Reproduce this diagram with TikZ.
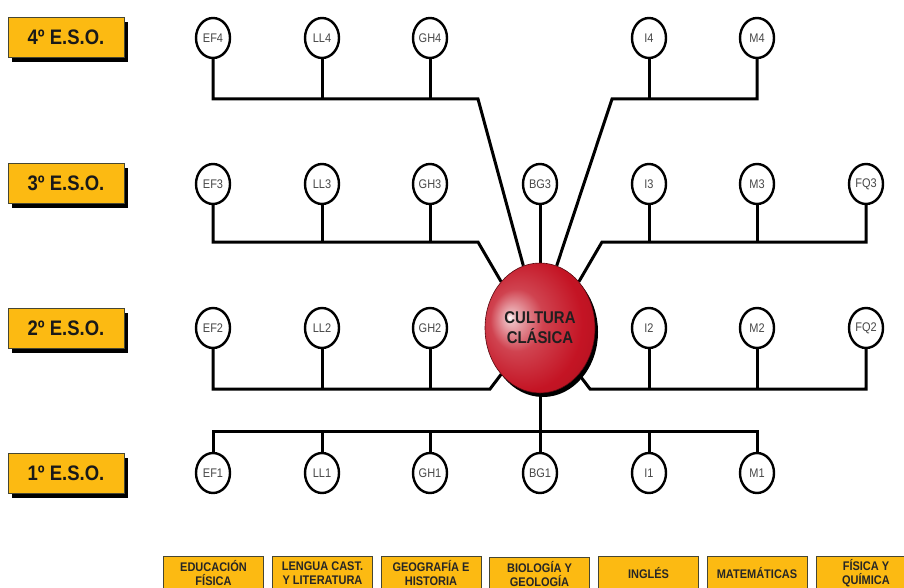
\documentclass[tikz,border=0pt]{standalone}
\usepackage{fontspec}
\setmainfont{Liberation Sans}
\newfontfamily\cf[FakeStretch=0.88]{Liberation Sans}
\usetikzlibrary{shapes.geometric,shadows,backgrounds}
\definecolor{gold}{RGB}{252,186,18}
\definecolor{boxedge}{RGB}{70,70,50}
\definecolor{cred}{RGB}{196,20,36}
\pgfdeclareradialshading{redball}{\pgfpoint{-14bp}{4bp}}{color(0bp)=(white); color(2bp)=(white!70!cred); color(12bp)=(cred!80!white); color(26bp)=(cred); color(42bp)=(cred!85!black); color(50bp)=(cred!60!black)}
\tikzset{
  conn/.style={line width=3pt, black},
  subj/.style={ellipse, draw, line width=2.4pt, fill=white, minimum width=34pt, minimum height=40pt, inner sep=0pt, font=\cf\fontsize{12.5}{13}\selectfont, text=black!72},
  esobox/.style={rectangle, draw=boxedge, line width=0.8pt, fill=gold, minimum width=116pt, minimum height=40pt, font=\cf\bfseries\fontsize{21}{24}\selectfont, text=black!90, drop shadow={shadow xshift=4pt, shadow yshift=-5pt, opacity=1, fill=black}},
  areabox/.style={rectangle, draw=boxedge, line width=0.8pt, fill=gold, minimum width=100pt, minimum height=34pt, align=center, font=\cf\bfseries\fontsize{12.5}{13.5}\selectfont, text=black!85},
}
\begin{document}
\begin{tikzpicture}[x=1pt,y=-1pt]
\useasboundingbox (0,0) rectangle (904,588);
\clip (0,0) rectangle (904,588);
% level labels
\node[esobox] (eso4) at (66,37) {4º E.S.O.};
\node[esobox] (eso3) at (66,183) {3º E.S.O.};
\node[esobox] (eso2) at (66,328) {2º E.S.O.};
\node[esobox] (eso1) at (66,473) {1º E.S.O.};
% central node
\node[ellipse, minimum width=110pt, minimum height=130pt, inner sep=0pt, shading=redball, draw=cred!45!black, line width=0.6pt, drop shadow={shadow xshift=3pt, shadow yshift=-4pt, opacity=1, fill=black}, align=center, font=\cf\bfseries\fontsize{17}{20}\selectfont, text=black!88] (cc) at (540,328) {CULTURA\\CLÁSICA};
% row 4
\node[subj] (EF4) at (213,38) {EF4};
\node[subj] (LL4) at (322,38) {LL4};
\node[subj] (GH4) at (430,38) {GH4};
\node[subj] (I4) at (649,38) {I4};
\node[subj] (M4) at (757,38) {M4};
% row 3
\node[subj] (EF3) at (213,184) {EF3};
\node[subj] (LL3) at (322,184) {LL3};
\node[subj] (GH3) at (430,184) {GH3};
\node[subj] (BG3) at (540,184) {BG3};
\node[subj] (I3) at (649,184) {I3};
\node[subj] (M3) at (757,184) {M3};
\node[subj] (FQ3) at (866,184) {FQ3};
% row 2
\node[subj] (EF2) at (213,328) {EF2};
\node[subj] (LL2) at (322,328) {LL2};
\node[subj] (GH2) at (430,328) {GH2};
\node[subj] (I2) at (649,328) {I2};
\node[subj] (M2) at (757,328) {M2};
\node[subj] (FQ2) at (866,328) {FQ2};
% row 1
\node[subj] (EF1) at (213,473) {EF1};
\node[subj] (LL1) at (322,473) {LL1};
\node[subj] (GH1) at (430,473) {GH1};
\node[subj] (BG1) at (540,473) {BG1};
\node[subj] (I1) at (649,473) {I1};
\node[subj] (M1) at (757,473) {M1};
% subject areas
\node[areabox] (aEF) at (213.5,573) {EDUCACIÓN\\FÍSICA};
\node[areabox] (aLL) at (322.5,573) {LENGUA CAST.\\Y LITERATURA};
\node[areabox] (aGH) at (431,573) {GEOGRAFÍA E\\HISTORIA};
\node[areabox] (aBG) at (539.5,574) {BIOLOGÍA Y\\GEOLOGÍA};
\node[areabox] (aI) at (648.5,573) {INGLÉS};
\node[areabox] (aM) at (757,573) {MATEMÁTICAS};
\node[areabox] (aFQ) at (866,573) {FÍSICA Y\\QUÍMICA};
% bus coordinates
\coordinate (b4l) at (478,99);
\coordinate (b4r) at (612,99);
\coordinate (b3l) at (478,242);
\coordinate (b3r) at (602,242);
\coordinate (b2l) at (490,389);
\coordinate (b2r) at (590,389);
\coordinate (b1) at (540,431);
\begin{pgfonlayer}{background}
% row 4
\draw[conn] (EF4.south) |- (b4l) -- (cc.105);
\draw[conn] (LL4.south) -- (LL4.south |- b4l);
\draw[conn] (GH4.south) -- (GH4.south |- b4l);
\draw[conn] (M4.south) |- (b4r) -- (cc.75);
\draw[conn] (I4.south) -- (I4.south |- b4r);
% row 3
\draw[conn] (EF3.south) |- (b3l) -- (cc.130);
\draw[conn] (LL3.south) -- (LL3.south |- b3l);
\draw[conn] (GH3.south) -- (GH3.south |- b3l);
\draw[conn] (BG3.south) -- (cc.north);
\draw[conn] (FQ3.south) |- (b3r) -- (cc.50);
\draw[conn] (I3.south) -- (I3.south |- b3r);
\draw[conn] (M3.south) -- (M3.south |- b3r);
% row 2
\draw[conn] (EF2.south) |- (b2l) -- (cc.230);
\draw[conn] (LL2.south) -- (LL2.south |- b2l);
\draw[conn] (GH2.south) -- (GH2.south |- b2l);
\draw[conn] (FQ2.south) |- (b2r) -- (cc.310);
\draw[conn] (I2.south) -- (I2.south |- b2r);
\draw[conn] (M2.south) -- (M2.south |- b2r);
% row 1
\draw[conn] (EF1.north) |- (b1) -| (M1.north);
\draw[conn] (LL1.north) -- (LL1.north |- b1);
\draw[conn] (GH1.north) -- (GH1.north |- b1);
\draw[conn] (I1.north) -- (I1.north |- b1);
\draw[conn] (cc.south) -- (BG1.north);
\end{pgfonlayer}
\end{tikzpicture}
\end{document}
